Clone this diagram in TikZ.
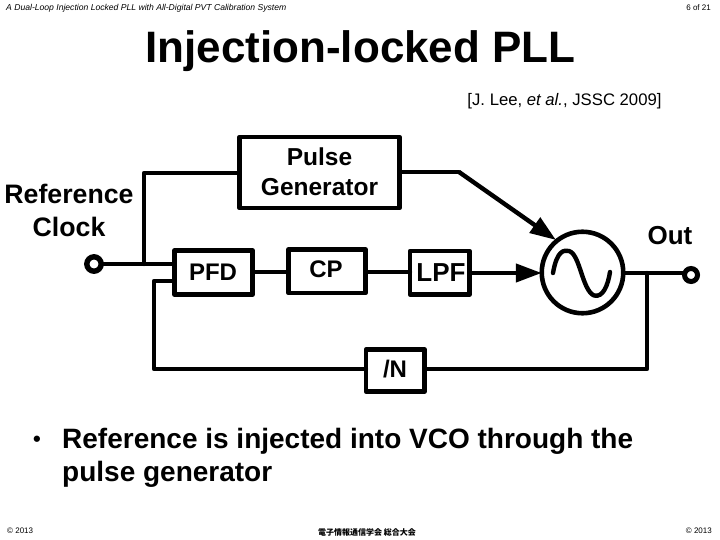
\documentclass[tikz,border=0pt]{standalone}
\usepackage{fontspec}
\setmainfont{Liberation Sans}
\newfontfamily\cjkfont{Noto Sans CJK JP}
\usetikzlibrary{arrows.meta}
\tikzset{
 x=1pt,y=-1pt,
 wire/.style={line width=4.4pt,line join=round,line cap=round},
 blockbox/.style={draw,line width=4.6pt,line join=round,inner sep=0pt,outer sep=0pt,anchor=north west},
 lbl/.style={font=\fontsize{#1}{#1}\selectfont\bfseries,inner sep=0pt,align=center},
 arrowwire/.style={wire,line cap=butt,-{Triangle[length=26pt,width=18pt]}},
 term/.style={circle,draw,line width=5.4pt,fill=white,minimum size=14.4pt,inner sep=0pt,outer sep=0pt},
 small/.style={font=\fontsize{8.6}{9}\selectfont\itshape,inner sep=0pt},
 foot/.style={font=\fontsize{8}{9}\selectfont,inner sep=0pt}
}
\begin{document}
\begin{tikzpicture}
\useasboundingbox (0,0) rectangle (720,540);
\fill[white] (0,0) rectangle (720,540);
% header / footer
\node[small,anchor=west] (hdr) at (6,8) {A Dual-Loop Injection Locked PLL with All-Digital PVT Calibration System};
\node[foot,anchor=east] (pg) at (711,8) {6 of 21};
\node[foot,anchor=west] (cl) at (7,531) {© 2013};
\node[foot,anchor=east] (cr) at (712,531) {© 2013};
\node[inner sep=0pt,font=\fontsize{8}{9}\cjkfont\bfseries] (cc) at (367,532) {電子情報通信学会 総合大会};
% title
\node[inner sep=0pt,font=\fontsize{44}{50}\selectfont\bfseries] (title) at (360.5,51) {Injection-locked PLL};
\node[inner sep=0pt,font=\fontsize{16.7}{18}\selectfont] (cite) at (564.5,101) {[J. Lee, \textit{et al.}, JSSC 2009]};
% blocks
\node[blockbox,minimum width=160pt,minimum height=71pt] (pg2) at (239.5,137) {};
\node[blockbox,minimum width=78pt,minimum height=44pt] (pfd) at (174.5,250.5) {};
\node[blockbox,minimum width=77pt,minimum height=43.5pt] (cp) at (288.5,249.5) {};
\node[blockbox,minimum width=59.5pt,minimum height=43.5pt] (lpf) at (410,251) {};
\node[blockbox,minimum width=58.5pt,minimum height=42pt] (div) at (366,349.5) {};
\node[circle,draw,line width=4.6pt,minimum size=81.5pt,inner sep=0pt,outer sep=0pt] (vco) at (582.5,272.5) {};
% labels
\node[lbl=24.5] (tpg) at (319.5,171.5) {Pulse\\[5pt]Generator};
\node[lbl=24] (tpfd) at (213,272) {PFD};
\node[lbl=24] (tcp) at (326,269) {CP};
\node[lbl=26] (tlpf) at (441,273) {LPF};
\node[lbl=24] (tdiv) at (395,369) {/N};
\node[lbl=26.7] (tref) at (69,210.5) {Reference\\[6pt]Clock};
\node[lbl=26] (tout) at (670,236) {Out};
% wires
\coordinate (j1) at (144,264);
\coordinate (j2) at (144,173);
\coordinate (j3) at (459,172);
\coordinate (j4) at (647,273);
\coordinate (vcotip) at (556,240);
\node[term] (refin) at (94,264) {};
\node[term,line width=5pt,minimum size=13pt] (outp) at (691,275) {};
\draw[wire] (refin.east) -- (pfd.west |- j1);
\draw[wire] (j1) -- (j2) -- (pg2.west |- j2);
\draw[wire] (pg2.east |- j3) -- (j3);
\draw[arrowwire] (j3) -- (vcotip);
\draw[wire] (pfd.east |- 0,272) -- (cp.west |- 0,272);
\draw[wire] (cp.east |- 0,272) -- (lpf.west |- 0,272);
\draw[arrowwire] (lpf.east |- 0,273) -- (vco.west |- 0,273);
\draw[wire] (vco.east |- 0,273) -- (outp.west |- 0,273);
\draw[wire] (j4) -- (647,369) -- (div.east |- 0,369);
\draw[wire] (div.west |- 0,369) -- (154,369) -- (154,281) -- (pfd.west |- 0,281);
% sine
\draw[wire] (553,273) .. controls (557,250) and (564,250) .. (569,251)
  .. controls (580,254) and (582,290) .. (594,295.5)
  .. controls (603,298) and (608,285) .. (610,272);
% bullet text
\node[inner sep=0pt,font=\fontsize{22}{33}\selectfont\bfseries] (bul) at (37,441) {•};
\node[anchor=north west,inner sep=0pt,align=left,font=\fontsize{28}{33}\selectfont\bfseries] (body) at (62,428) {Reference is injected into VCO through the\\pulse generator};
\end{tikzpicture}
\end{document}
